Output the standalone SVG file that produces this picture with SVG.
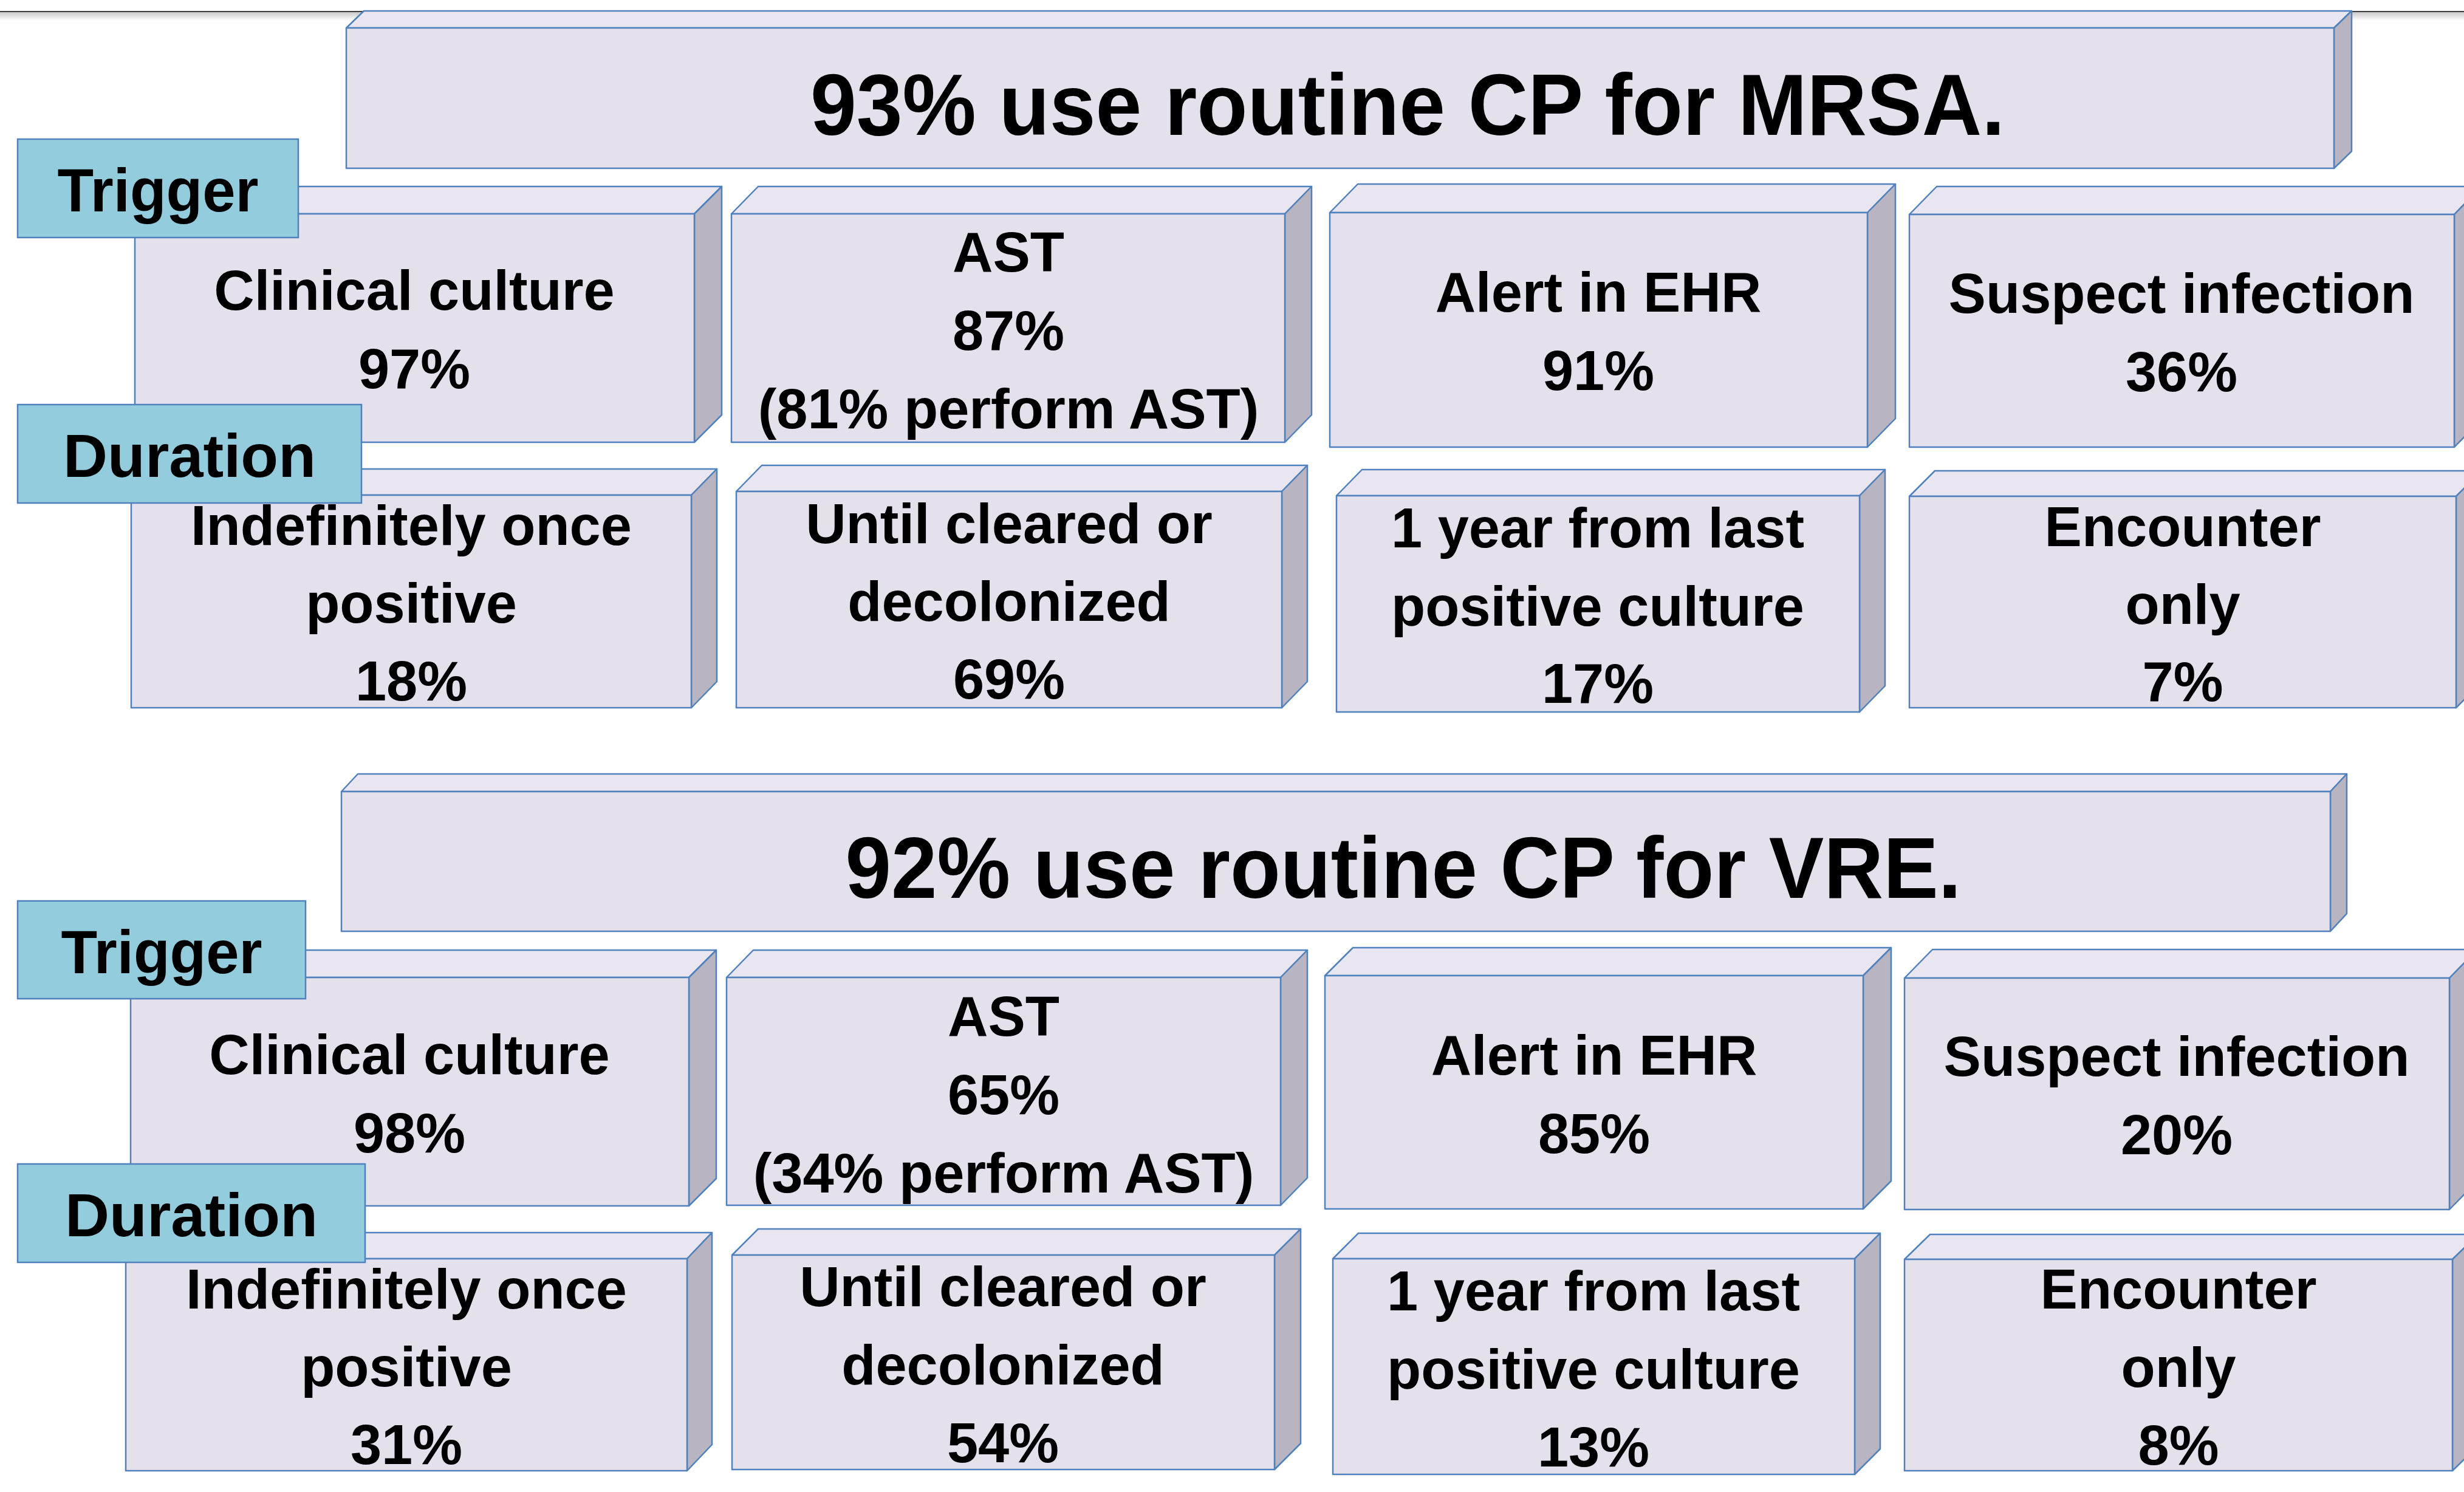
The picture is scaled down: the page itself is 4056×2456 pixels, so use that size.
<svg xmlns="http://www.w3.org/2000/svg" width="4056" height="2456" viewBox="0 0 4056 2456">
<defs>
<linearGradient id="shade" x1="0" y1="0" x2="0" y2="1">
<stop offset="0" stop-color="#c8c8c8"/>
<stop offset="1" stop-color="#ffffff"/>
</linearGradient>
<style>
.front{fill:#E4E0EC;stroke:#4F81BD;stroke-width:2.5;stroke-linejoin:round}
.top{fill:#EAE6F1;stroke:#4F81BD;stroke-width:2.5;stroke-linejoin:round}
.side{fill:#B9B4C1;stroke:#4F81BD;stroke-width:2.5;stroke-linejoin:round}
.lbl{fill:#93CDDD;stroke:#4F81BD;stroke-width:2.5}
.txt{font-family:"Liberation Sans",Arial,sans-serif;font-weight:bold;font-size:92px;fill:#000;text-anchor:middle}
.ltxt{font-family:"Liberation Sans",Arial,sans-serif;font-weight:bold;font-size:100px;fill:#000;text-anchor:middle}
.ttl{font-family:"Liberation Sans",Arial,sans-serif;font-weight:bold;font-size:142px;fill:#000;text-anchor:middle}
</style>
</defs>
<rect x="0" y="0" width="4056" height="2456" fill="#ffffff"/>
<rect x="0" y="20" width="4056" height="14" fill="url(#shade)"/>
<line x1="0" y1="19" x2="4056" y2="19" stroke="#3c3c3c" stroke-width="2"/>

<g id="title-mrsa">
<polygon class="top" points="570,46 599,18 3871,18 3842,46"/>
<polygon class="side" points="3842,46 3871,18 3871,249 3842,277"/>
<rect class="front" x="570" y="46" width="3272" height="231"/>
<text class="ttl" x="2317" y="222" textLength="1966" lengthAdjust="spacingAndGlyphs">93% use routine CP for MRSA.</text>
</g>

<g id="mrsa-trigger-clinical">
<polygon class="top" points="222,352 267,307 1188,307 1143,352"/>
<polygon class="side" points="1143,352 1188,307 1188,683 1143,728"/>
<rect class="front" x="222" y="352" width="921" height="376"/>
<text class="txt" x="682" y="510">Clinical culture</text>
<text class="txt" x="682" y="639">97%</text>
</g>
<g id="mrsa-trigger-ast">
<polygon class="top" points="1204,352 1248,307 2159,307 2115,352"/>
<polygon class="side" points="2115,352 2159,307 2159,683 2115,728"/>
<rect class="front" x="1204" y="352" width="911" height="376"/>
<text class="txt" x="1660" y="447">AST</text>
<text class="txt" x="1660" y="576">87%</text>
<text class="txt" x="1660" y="705">(81% perform AST)</text>
</g>
<g id="mrsa-trigger-alert">
<polygon class="top" points="2189,350 2235,303 3120,303 3074,350"/>
<polygon class="side" points="3074,350 3120,303 3120,689 3074,736"/>
<rect class="front" x="2189" y="350" width="885" height="386"/>
<text class="txt" x="2631" y="513">Alert in EHR</text>
<text class="txt" x="2631" y="642">91%</text>
</g>
<g id="mrsa-trigger-suspect">
<polygon class="top" points="3143,353 3188,307 4085,307 4040,353"/>
<polygon class="side" points="4040,353 4085,307 4085,690 4040,736"/>
<rect class="front" x="3143" y="353" width="897" height="383"/>
<text class="txt" x="3591" y="515">Suspect infection</text>
<text class="txt" x="3591" y="644">36%</text>
</g>

<g id="mrsa-duration-indef">
<polygon class="top" points="216,815 258,772 1180,772 1138,815"/>
<polygon class="side" points="1138,815 1180,772 1180,1122 1138,1165"/>
<rect class="front" x="216" y="815" width="922" height="350"/>
<text class="txt" x="677" y="897">Indefinitely once</text>
<text class="txt" x="677" y="1025">positive</text>
<text class="txt" x="677" y="1153">18%</text>
</g>
<g id="mrsa-duration-cleared">
<polygon class="top" points="1212,809 1254,766 2152,766 2110,809"/>
<polygon class="side" points="2110,809 2152,766 2152,1122 2110,1165"/>
<rect class="front" x="1212" y="809" width="898" height="356"/>
<text class="txt" x="1661" y="894">Until cleared or</text>
<text class="txt" x="1661" y="1022">decolonized</text>
<text class="txt" x="1661" y="1150">69%</text>
</g>
<g id="mrsa-duration-year">
<polygon class="top" points="2200,816 2242,773 3103,773 3061,816"/>
<polygon class="side" points="3061,816 3103,773 3103,1129 3061,1172"/>
<rect class="front" x="2200" y="816" width="861" height="356"/>
<text class="txt" x="2630" y="901">1 year from last</text>
<text class="txt" x="2630" y="1030">positive culture</text>
<text class="txt" x="2630" y="1157">17%</text>
</g>
<g id="mrsa-duration-encounter">
<polygon class="top" points="3143,817 3185,775 4085,775 4043,817"/>
<polygon class="side" points="4043,817 4085,775 4085,1123 4043,1165"/>
<rect class="front" x="3143" y="817" width="900" height="348"/>
<text class="txt" x="3593" y="899">Encounter</text>
<text class="txt" x="3593" y="1027">only</text>
<text class="txt" x="3593" y="1154">7%</text>
</g>

<g id="title-vre">
<polygon class="top" points="562,1303 589,1274 3863,1274 3836,1303"/>
<polygon class="side" points="3836,1303 3863,1274 3863,1504 3836,1533"/>
<rect class="front" x="562" y="1303" width="3274" height="230"/>
<text class="ttl" x="2310" y="1478" textLength="1837" lengthAdjust="spacingAndGlyphs">92% use routine CP for VRE.</text>
</g>

<g id="vre-trigger-clinical">
<polygon class="top" points="215,1609 260,1564 1179,1564 1134,1609"/>
<polygon class="side" points="1134,1609 1179,1564 1179,1940 1134,1985"/>
<rect class="front" x="215" y="1609" width="919" height="376"/>
<text class="txt" x="674" y="1768">Clinical culture</text>
<text class="txt" x="674" y="1897">98%</text>
</g>
<g id="vre-trigger-ast">
<polygon class="top" points="1196,1609 1240,1564 2152,1564 2108,1609"/>
<polygon class="side" points="2108,1609 2152,1564 2152,1939 2108,1984"/>
<rect class="front" x="1196" y="1609" width="912" height="375"/>
<text class="txt" x="1652" y="1705">AST</text>
<text class="txt" x="1652" y="1834">65%</text>
<text class="txt" x="1652" y="1963">(34% perform AST)</text>
</g>
<g id="vre-trigger-alert">
<polygon class="top" points="2181,1606 2227,1560 3113,1560 3067,1606"/>
<polygon class="side" points="3067,1606 3113,1560 3113,1944 3067,1990"/>
<rect class="front" x="2181" y="1606" width="886" height="384"/>
<text class="txt" x="2624" y="1769">Alert in EHR</text>
<text class="txt" x="2624" y="1898">85%</text>
</g>
<g id="vre-trigger-suspect">
<polygon class="top" points="3135,1610 3181,1563 4078,1563 4032,1610"/>
<polygon class="side" points="4032,1610 4078,1563 4078,1944 4032,1991"/>
<rect class="front" x="3135" y="1610" width="897" height="381"/>
<text class="txt" x="3583" y="1771">Suspect infection</text>
<text class="txt" x="3583" y="1900">20%</text>
</g>

<g id="vre-duration-indef">
<polygon class="top" points="207,2072 248,2029 1172,2029 1131,2072"/>
<polygon class="side" points="1131,2072 1172,2029 1172,2378 1131,2421"/>
<rect class="front" x="207" y="2072" width="924" height="349"/>
<text class="txt" x="669" y="2154">Indefinitely once</text>
<text class="txt" x="669" y="2282">positive</text>
<text class="txt" x="669" y="2410">31%</text>
</g>
<g id="vre-duration-cleared">
<polygon class="top" points="1205,2066 1248,2023 2141,2023 2098,2066"/>
<polygon class="side" points="2098,2066 2141,2023 2141,2376 2098,2419"/>
<rect class="front" x="1205" y="2066" width="893" height="353"/>
<text class="txt" x="1651" y="2150">Until cleared or</text>
<text class="txt" x="1651" y="2279">decolonized</text>
<text class="txt" x="1651" y="2407">54%</text>
</g>
<g id="vre-duration-year">
<polygon class="top" points="2194,2072 2236,2030 3095,2030 3053,2072"/>
<polygon class="side" points="3053,2072 3095,2030 3095,2385 3053,2427"/>
<rect class="front" x="2194" y="2072" width="859" height="355"/>
<text class="txt" x="2623" y="2157">1 year from last</text>
<text class="txt" x="2623" y="2286">positive culture</text>
<text class="txt" x="2623" y="2414">13%</text>
</g>
<g id="vre-duration-encounter">
<polygon class="top" points="3135,2073 3177,2032 4079,2032 4037,2073"/>
<polygon class="side" points="4037,2073 4079,2032 4079,2380 4037,2421"/>
<rect class="front" x="3135" y="2073" width="902" height="348"/>
<text class="txt" x="3586" y="2154">Encounter</text>
<text class="txt" x="3586" y="2283">only</text>
<text class="txt" x="3586" y="2411">8%</text>
</g>

<g id="label-mrsa-trigger">
<rect class="lbl" x="29" y="229" width="462" height="162"/>
<text class="ltxt" x="260" y="348" textLength="331" lengthAdjust="spacingAndGlyphs">Trigger</text>
</g>
<g id="label-mrsa-duration">
<rect class="lbl" x="29" y="666" width="566" height="162"/>
<text class="ltxt" x="312" y="785" textLength="416" lengthAdjust="spacingAndGlyphs">Duration</text>
</g>
<g id="label-vre-trigger">
<rect class="lbl" x="29" y="1483" width="474" height="161"/>
<text class="ltxt" x="266" y="1602" textLength="331" lengthAdjust="spacingAndGlyphs">Trigger</text>
</g>
<g id="label-vre-duration">
<rect class="lbl" x="29" y="1916" width="572" height="162"/>
<text class="ltxt" x="315" y="2035" textLength="416" lengthAdjust="spacingAndGlyphs">Duration</text>
</g>

<g id="connectors"/>
</svg>
